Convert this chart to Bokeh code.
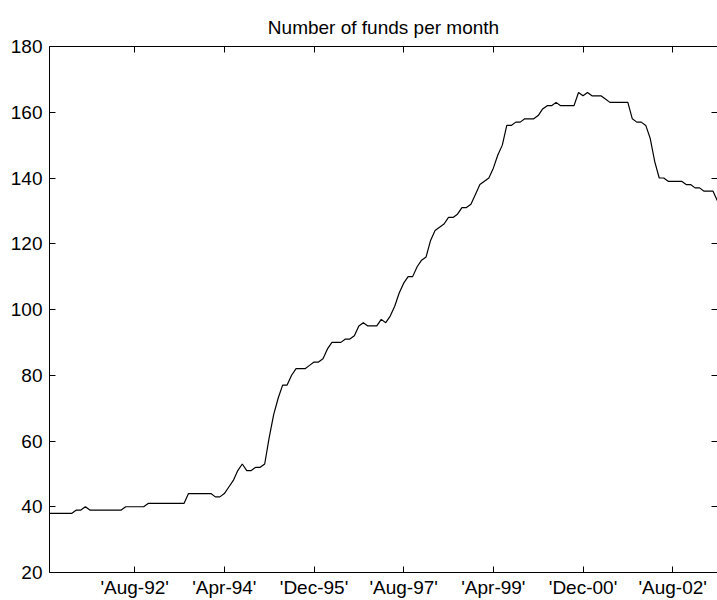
from bokeh.plotting import figure
from bokeh.models import Range1d, FixedTicker, LinearAxis
from bokeh.embed import file_html
from bokeh.resources import INLINE

# Monthly count of funds, Jan-91 .. Jun-03 (month index 1..150)
funds = [
    38, 38, 38, 38, 38, 38, 39, 39, 40, 39,
    39, 39, 39, 39, 39, 39, 39, 40, 40, 40,
    40, 40, 41, 41, 41, 41, 41, 41, 41, 41,
    41, 44, 44, 44, 44, 44, 44, 43, 43, 44,
    46, 48, 51, 53, 51, 51, 52, 52, 53, 61,
    68, 73, 77, 77, 80, 82, 82, 82, 83, 84,
    84, 85, 88, 90, 90, 90, 91, 91, 92, 95,
    96, 95, 95, 95, 97, 96, 98, 101, 105, 108,
    110, 110, 113, 115, 116, 121, 124, 125, 126, 128,
    128, 129, 131, 131, 132, 135, 138, 139, 140, 143,
    147, 150, 156, 156, 157, 157, 158, 158, 158, 159,
    161, 162, 162, 163, 162, 162, 162, 162, 166, 165,
    166, 165, 165, 165, 164, 163, 163, 163, 163, 163,
    158, 157, 157, 156, 152, 145, 140, 140, 139, 139,
    139, 139, 138, 138, 137, 137, 136, 136, 136, 133,
]
months = list(range(1, len(funds) + 1))

tick_months = [20, 40, 60, 80, 100, 120, 140]
tick_labels = ["'Aug-92'", "'Apr-94'", "'Dec-95'", "'Aug-97'",
               "'Apr-99'", "'Dec-00'", "'Aug-02'"]
y_ticks = [20, 40, 60, 80, 100, 120, 140, 160, 180]

FONT = "Liberation Sans"
FS = "19px"

p = figure(width=717, height=600, output_backend="svg", toolbar_location=None,
           x_range=Range1d(1, 150), y_range=Range1d(20, 180),
           x_axis_location=None, y_axis_location=None,
           min_border_left=49, min_border_right=0,
           min_border_top=46, min_border_bottom=22)
p.title.text = "Number of funds per month"
p.title.align = "center"
p.title.text_font = FONT
p.title.text_font_size = FS
p.title.text_font_style = "normal"
p.title.text_color = "black"
p.title.standoff = 18
p.grid.visible = False
p.outline_line_color = None
p.background_fill_color = "white"
p.border_fill_color = "white"

label_map = {m: lab for m, lab in zip(tick_months, tick_labels)}


def style(ax, show_labels=True, show_line=True):
    ax.major_tick_in = 6
    ax.major_tick_out = 0
    ax.minor_tick_in = 0
    ax.minor_tick_out = 0
    ax.major_tick_line_color = "black"
    ax.major_tick_line_width = 1
    ax.axis_line_color = "black" if show_line else None
    ax.axis_line_width = 1
    ax.major_label_text_font = FONT
    ax.major_label_text_font_size = FS if show_labels else "0px"
    ax.major_label_text_color = "black"


bottom = LinearAxis(ticker=FixedTicker(ticks=tick_months),
                    major_label_overrides=label_map)
style(bottom)
bottom.major_label_standoff = 4
p.add_layout(bottom, "below")

top = LinearAxis(ticker=FixedTicker(ticks=tick_months))
style(top, show_labels=False)
top.major_label_standoff = 0
p.add_layout(top, "above")

left = LinearAxis(ticker=FixedTicker(ticks=y_ticks))
style(left)
left.major_label_standoff = 7
p.add_layout(left, "left")

right = LinearAxis(ticker=FixedTicker(ticks=y_ticks))
style(right, show_labels=False, show_line=False)
right.major_label_standoff = 0
p.add_layout(right, "right")

p.line(months, funds, line_color="black", line_width=1.2)

open("out.html", "w").write(file_html(p, INLINE))
